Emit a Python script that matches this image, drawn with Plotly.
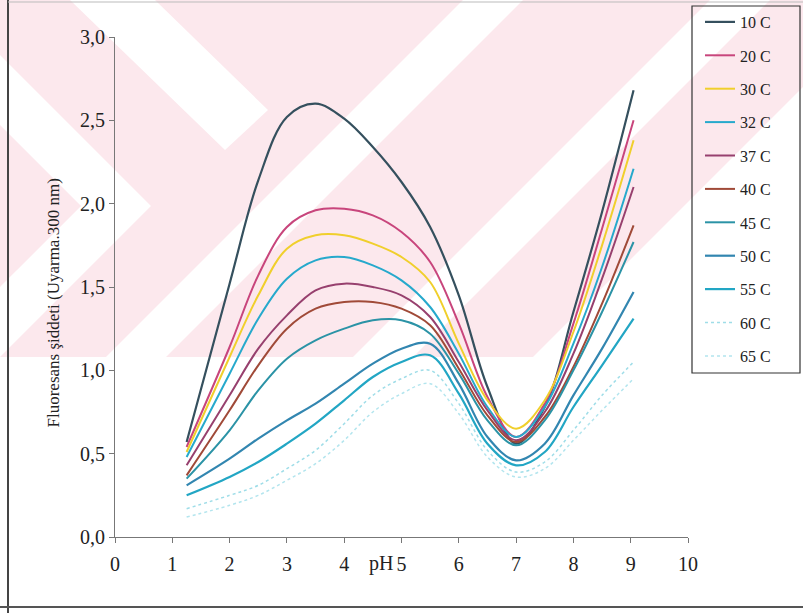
import plotly.graph_objects as go

# ---- data ----
ph = [1.25, 2.0, 2.5, 3.0, 3.5, 4.0, 4.5, 5.0, 5.5, 6.0, 6.5, 7.0, 7.5, 8.0, 8.5, 9.05]

series_names = ["10 C", "20 C", "30 C", "32 C", "37 C", "40 C", "45 C", "50 C", "55 C", "60 C", "65 C"]

t10 = [0.57, 1.52, 2.14, 2.52, 2.60, 2.51, 2.34, 2.13, 1.86, 1.45, 0.90, 0.56, 0.78, 1.35, 1.95, 2.68]
t20 = [0.54, 1.14, 1.57, 1.86, 1.96, 1.97, 1.93, 1.83, 1.65, 1.28, 0.84, 0.60, 0.80, 1.28, 1.85, 2.50]
t30 = [0.51, 1.08, 1.45, 1.73, 1.81, 1.81, 1.76, 1.68, 1.53, 1.16, 0.82, 0.65, 0.82, 1.23, 1.75, 2.38]
t32 = [0.48, 0.98, 1.31, 1.55, 1.66, 1.68, 1.63, 1.54, 1.38, 1.10, 0.78, 0.60, 0.78, 1.16, 1.62, 2.21]
t37 = [0.43, 0.85, 1.13, 1.33, 1.48, 1.52, 1.50, 1.45, 1.32, 1.05, 0.76, 0.58, 0.75, 1.10, 1.55, 2.10]
t40 = [0.37, 0.76, 1.03, 1.25, 1.37, 1.41, 1.41, 1.37, 1.27, 1.01, 0.73, 0.57, 0.72, 1.02, 1.40, 1.87]
t45 = [0.35, 0.64, 0.88, 1.07, 1.18, 1.25, 1.30, 1.30, 1.22, 0.98, 0.70, 0.55, 0.70, 1.00, 1.35, 1.77]
t50 = [0.31, 0.47, 0.59, 0.70, 0.80, 0.92, 1.04, 1.13, 1.16, 0.92, 0.60, 0.46, 0.56, 0.85, 1.13, 1.47]
t55 = [0.25, 0.36, 0.45, 0.56, 0.68, 0.82, 0.96, 1.05, 1.09, 0.86, 0.56, 0.43, 0.51, 0.78, 1.03, 1.31]
t60 = [0.17, 0.25, 0.31, 0.41, 0.52, 0.68, 0.85, 0.95, 1.00, 0.80, 0.52, 0.39, 0.45, 0.64, 0.85, 1.05]
t65 = [0.12, 0.19, 0.25, 0.34, 0.44, 0.58, 0.75, 0.86, 0.92, 0.74, 0.48, 0.36, 0.41, 0.58, 0.76, 0.95]

series_values = [t10, t20, t30, t32, t37, t40, t45, t50, t55, t60, t65]

colors = ["#35505e", "#c8457c", "#f0cf2c", "#26a9cc", "#97406e", "#a04a38",
          "#2b93a6", "#3286b0", "#22a6c4", "#9fdde8", "#b3e5ee"]
dashes = ["solid"] * 9 + ["dot", "dot"]
widths = [2.2, 2, 2, 2, 2, 2, 2, 2.2, 2.2, 1.5, 1.5]

# ---- layout geometry (page pixels) ----
W, H = 803, 613
ML, MR, MT, MB = 115, 115, 37, 76
PW, PH = W - ML - MR, H - MT - MB


def px(x):
    return (x - ML) / PW


def py(y):
    return (H - MB - y) / PH


def poly(points):
    return "M " + " L ".join(f"{px(a):.4f},{py(b):.4f}" for a, b in points) + " Z"


fig = go.Figure()
for name, vals, c, d, w in zip(series_names, series_values, colors, dashes, widths):
    fig.add_trace(go.Scatter(
        x=ph, y=vals, name=name, mode="lines",
        line=dict(color=c, width=w, dash=d, shape="spline", smoothing=1.0),
        legendgroup=name,
    ))

pink = "#fce8ed"
white = "#ffffff"
shapes = []
# watermark background
shapes.append(dict(type="path", xref="paper", yref="paper", layer="below",
                   path=poly([(0, 0), (W, 0), (W, 357), (0, 357)]),
                   fillcolor=pink, line=dict(width=0)))
for pts in [
    [(70, 0), (155, 0), (268, 110), (225, 150)],
    [(0, 55), (151, 206), (0, 357), (0, 287), (81, 206), (0, 125)],
    [(463, 0), (523, 0), (166, 357), (106, 357)],
    [(710, 0), (770, 0), (413, 357), (353, 357)],
    [(W, 87), (W, 357), (533, 357)],
]:
    shapes.append(dict(type="path", xref="paper", yref="paper", layer="below",
                       path=poly(pts), fillcolor=white, line=dict(width=0)))
# legend box
shapes.append(dict(type="rect", xref="paper", yref="paper",
                   x0=px(692), x1=px(800), y0=py(373), y1=py(6),
                   line=dict(color="#333333", width=1.2)))
# scan frame
shapes.append(dict(type="line", xref="paper", yref="paper",
                   x0=px(8), x1=px(8), y0=py(0), y1=py(H), line=dict(color="#444444", width=2)))
shapes.append(dict(type="line", xref="paper", yref="paper",
                   x0=px(0), x1=px(W), y0=py(607), y1=py(607), line=dict(color="#555555", width=2)))
shapes.append(dict(type="line", xref="paper", yref="paper",
                   x0=px(8), x1=px(W), y0=py(2), y1=py(2), line=dict(color="#bbbbbb", width=1)))

serif = "Liberation Serif"
fig.update_layout(
    width=W, height=H,
    margin=dict(l=ML, r=MR, t=MT, b=MB, autoexpand=False),
    paper_bgcolor="white", plot_bgcolor="rgba(0,0,0,0)",
    separators=", ",
    font=dict(family=serif, size=20, color="#222222"),
    shapes=shapes,
    showlegend=True,
    legend=dict(x=px(700), y=py(5), xanchor="left", yanchor="top",
                bgcolor="rgba(0,0,0,0)", borderwidth=0, maxheight=600,
                font=dict(family=serif, size=16, color="#222222"),
                tracegroupgap=9.6, itemwidth=30),
    annotations=[
        dict(text="Fluoresans şiddeti (Uyarma.300 nm)", xref="paper", yref="paper",
             x=px(41), y=py(303), textangle=-90, showarrow=False,
             font=dict(family=serif, size=17, color="#222222")),
        dict(text="pH", xref="paper", yref="paper", x=px(381), y=py(577),
             showarrow=False, font=dict(family=serif, size=20, color="#222222")),
    ],
)
fig.update_xaxes(range=[0, 10], dtick=1, tick0=0, showgrid=False, zeroline=False,
                 showline=True, linecolor="#777777", linewidth=1,
                 ticks="outside", ticklen=5, tickcolor="#777777",
                 ticklabelstandoff=4,
                 tickfont=dict(family=serif, size=20, color="#222222"))
fig.update_yaxes(range=[0, 3], dtick=0.5, tick0=0, tickformat=".1f", showgrid=False,
                 zeroline=False, showline=True, linecolor="#777777", linewidth=1,
                 ticks="outside", ticklen=5, tickcolor="#777777",
                 tickfont=dict(family=serif, size=20, color="#222222"))

fig.write_html("out.html", config={"displayModeBar": False},
               post_script="document.body.style.margin='0';document.body.style.overflow='hidden';")
